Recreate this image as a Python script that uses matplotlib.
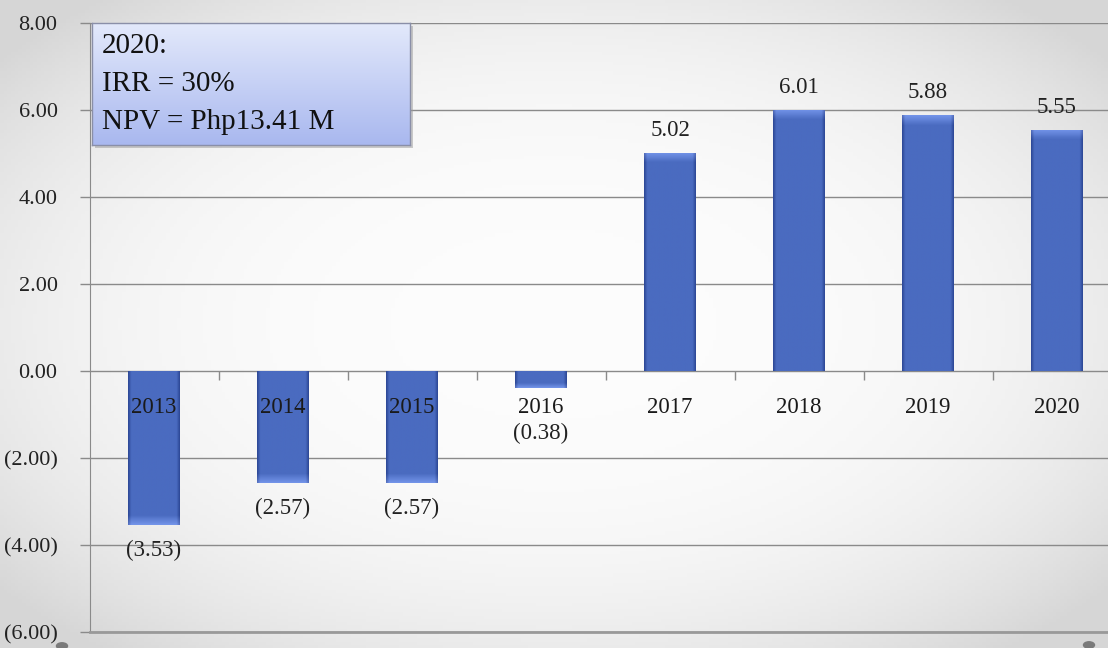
import numpy as np
import matplotlib
matplotlib.use("Agg")
import matplotlib.pyplot as plt
from matplotlib.patches import Circle
from matplotlib.colors import to_rgb

years = ["2013", "2014", "2015", "2016", "2017", "2018", "2019", "2020"]
cash_flow = [-3.53, -2.57, -2.57, -0.38, 5.02, 6.01, 5.88, 5.55]
y_ticks = [-6, -4, -2, 0, 2, 4, 6, 8]
summary_lines = ["2020:", "IRR = 30%", "NPV = Php13.41 M"]

plt.rcParams["font.family"] = ["Liberation Serif", "DejaVu Serif"]

W, H, DPI = 1108, 648, 100
fig = plt.figure(figsize=(W / DPI, H / DPI), dpi=DPI)

# soft radial grey backdrop
bg = fig.add_axes([0, 0, 1, 1], zorder=-10)
yy, xx = np.mgrid[0:1:200j, 0:1:300j]
r = np.sqrt(((xx - 0.5) / 0.62) ** 2 + ((yy - 0.5) / 0.62) ** 2)
shade = np.clip(0.99 - 0.13 * r ** 3, 0.84, 1.0)
bg.imshow(np.dstack([shade] * 3), extent=[0, 1, 0, 1], aspect="auto", origin="lower")
bg.axis("off")
for cx, cy in [(62, 646), (1089, 645)]:
    bg.add_patch(Circle((cx / W, 1 - cy / H), 5.5 / W, transform=bg.transAxes,
                        color="#7a7a7a", clip_on=False))

left_px, right_px, top_px, bot_px = 89.5, 1121.5, 23, 632
ax = fig.add_axes([left_px / W, 1 - bot_px / H, (right_px - left_px) / W,
                   (bot_px - top_px) / H])
ax.set_facecolor("none")

grid_c = "#8a8a8a"
for v in y_ticks:
    ax.axhline(v, color=grid_c, lw=1.0, zorder=1)
ax.set_yticks(y_ticks)
ax.set_yticklabels([f"({abs(v):.2f})" if v < 0 else f"{v:.2f}" for v in y_ticks],
                   fontsize=16, color="#222222")
ax.tick_params(axis="y", length=7, width=1, color=grid_c, pad=16)
ax.set_xticks([])
for s in ["top", "right"]:
    ax.spines[s].set_visible(False)
ax.spines["left"].set_color(grid_c)
ax.spines["bottom"].set_color("#999999")
ax.spines["bottom"].set_linewidth(2)

# category separator ticks under the zero line
idx = np.arange(len(years))
ax.vlines(idx[:-1] + 0.5, -0.2, 0, color=grid_c, lw=1.0, zorder=1)

# bars with a bevelled blue shading
edge = np.array(to_rgb("#2d4896"))
mid = np.array(to_rgb("#4a6bc0"))
prof = np.linspace(-1, 1, 80)
wgt = np.clip((1 - np.abs(prof)) / 0.12, 0, 1)
grad = edge[None, :] * (1 - wgt[:, None]) + mid[None, :] * wgt[:, None]
grad_img = np.tile(grad[None, :, :], (200, 1, 1))
cap = np.clip(1 - np.linspace(0, 1, 200) / 0.04, 0, 1)
grad_img = grad_img + 0.16 * cap[:, None, None]
grad_img = np.clip(grad_img, 0, 1)

bar_w = 0.4
bars = ax.bar(idx, cash_flow, width=bar_w, color="#4a6bc0", zorder=2)
for b, v in zip(bars, cash_flow):
    x0 = b.get_x()
    lo, hi = min(0, v), max(0, v)
    img = grad_img if v > 0 else grad_img[::-1]
    # keep the bevel a constant size regardless of bar height
    n = max(int(200 * abs(v) / 6.0), 8)
    im = ax.imshow(np.concatenate([img[:8], np.repeat(img[8:9], n, axis=0), img[-8:]])
                   if v > 0 else np.concatenate([img[:8], np.repeat(img[-9:-8], n, axis=0), img[-8:]]),
                   extent=[x0, x0 + bar_w, lo, hi], origin="upper", aspect="auto", zorder=3)
    im.set_clip_path(b)
ax.set_xlim(-0.5, len(years) - 0.5)
ax.set_ylim(-6, 8)

# category labels hang just below the zero line
for i, yr in zip(idx, years):
    ax.annotate(yr, (i, 0), xytext=(0, -26), textcoords="offset points",
                ha="center", va="center", fontsize=16.5, color="#1a1a1a", zorder=5)

# value labels
for i, v in zip(idx, cash_flow):
    if v >= 0:
        ax.annotate(f"{v:.2f}", (i, v), xytext=(0, 16), textcoords="offset points",
                    ha="center", va="center", fontsize=16.5, color="#222222", zorder=5)
    else:
        off = -33 if abs(v) < 1 else -18.5
        ax.annotate(f"({abs(v):.2f})", (i, v), xytext=(0, off), textcoords="offset points",
                    ha="center", va="center", fontsize=16.5, color="#222222", zorder=5)

# summary box
bx0, by0, bx1, by1 = 92, 23, 410, 145
shadow = fig.add_axes([(bx0 + 3) / W, 1 - (by1 + 3) / H, (bx1 - bx0) / W, (by1 - by0) / H],
                      zorder=4)
shadow.set_facecolor("#9a9a9a")
shadow.patch.set_alpha(0.5)
shadow.set_xticks([]); shadow.set_yticks([])
for s in shadow.spines.values():
    s.set_visible(False)
box = fig.add_axes([bx0 / W, 1 - by1 / H, (bx1 - bx0) / W, (by1 - by0) / H], zorder=5)
top_c = np.array(to_rgb("#e3e9fb"))
bot_c = np.array(to_rgb("#a9b8ef"))
t = np.linspace(0, 1, 100)[:, None]
box_img = top_c[None, :] * (1 - t) + bot_c[None, :] * t
box.imshow(np.tile(box_img[:, None, :], (1, 10, 1)), extent=[0, 1, 0, 1],
           aspect="auto", origin="upper")
box.set_xlim(0, 1); box.set_ylim(0, 1)
box.set_xticks([]); box.set_yticks([])
for s in box.spines.values():
    s.set_color("#8a8fa8")
    s.set_linewidth(1.0)
for k, line in enumerate(summary_lines):
    box.text(10 / (bx1 - bx0), 1 - (23 + 38 * k) / (by1 - by0), line,
             transform=box.transAxes, ha="left", va="center",
             fontsize=21, color="#111111")

fig.savefig("out.png", dpi=DPI)
